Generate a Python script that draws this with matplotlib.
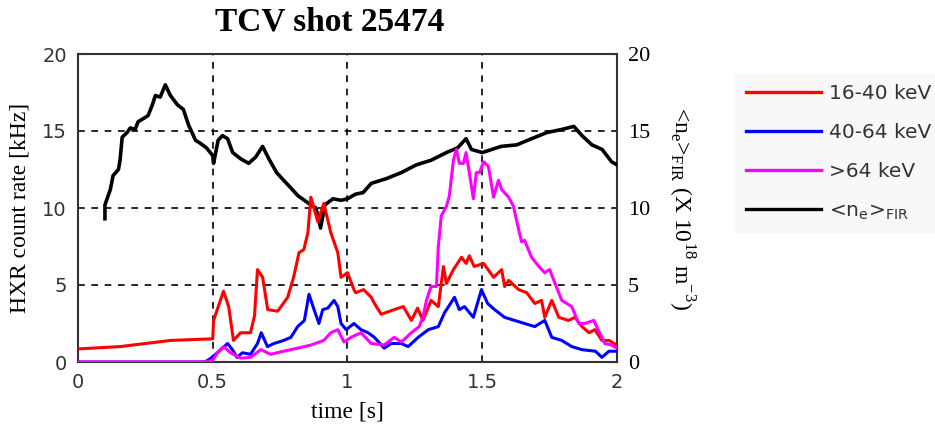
import matplotlib
matplotlib.use('Agg')
import matplotlib.pyplot as plt
from matplotlib.lines import Line2D

plt.rcParams['mathtext.fontset'] = 'custom'
plt.rcParams['mathtext.rm'] = 'Liberation Serif'
plt.rcParams['mathtext.sf'] = 'DejaVu Sans'

# (time [s], value) pairs
ne_fir = [(0.10, 9.3), (0.10, 10.2), (0.12, 11.2), (0.13, 12.1), (0.15, 12.5), (0.156, 13.1),
          (0.164, 14.6), (0.182, 14.9), (0.194, 15.2), (0.212, 15.1), (0.223, 15.6), (0.242, 15.8),
          (0.26, 16.0), (0.276, 16.7), (0.287, 17.3), (0.305, 17.2), (0.324, 18.0), (0.343, 17.3),
          (0.369, 16.7), (0.391, 16.4), (0.41, 15.4), (0.436, 14.4), (0.454, 14.2), (0.477, 13.9),
          (0.50, 13.4), (0.503, 12.9), (0.52, 14.4), (0.536, 14.7), (0.555, 14.5), (0.574, 13.6),
          (0.603, 13.2), (0.633, 12.9), (0.659, 13.3), (0.685, 14.0), (0.708, 13.2), (0.737, 12.3),
          (0.763, 11.8), (0.79, 11.3), (0.816, 10.8), (0.84, 10.5), (0.864, 10.2), (0.883, 10.0),
          (0.90, 8.7), (0.916, 10.2), (0.946, 10.6), (0.976, 10.5), (1.0, 10.6), (1.03, 10.9),
          (1.058, 11.0), (1.088, 11.6), (1.143, 11.9), (1.2, 12.3), (1.255, 12.8), (1.31, 13.1),
          (1.367, 13.6), (1.408, 13.9), (1.44, 14.5), (1.46, 13.8), (1.5, 13.6), (1.535, 13.8),
          (1.57, 14.0), (1.628, 14.1), (1.683, 14.5), (1.74, 14.9), (1.795, 15.1), (1.84, 15.3),
          (1.87, 14.7), (1.907, 14.1), (1.945, 13.8), (1.98, 13.0), (2.0, 12.8)]

hxr_16_40 = [(0.0, 0.85), (0.156, 1.0), (0.25, 1.2), (0.343, 1.4), (0.49, 1.5), (0.50, 1.5),
             (0.503, 2.7), (0.54, 4.6), (0.559, 3.6), (0.577, 1.4), (0.603, 1.9), (0.64, 1.9),
             (0.655, 3.0), (0.666, 6.0), (0.685, 5.5), (0.704, 3.4), (0.741, 3.3), (0.778, 4.2),
             (0.80, 5.5), (0.82, 7.1), (0.838, 7.3), (0.853, 8.4), (0.864, 10.7), (0.89, 9.1),
             (0.912, 10.3), (0.938, 8.4), (0.964, 7.1), (0.976, 5.5), (1.0, 5.8), (1.024, 4.7),
             (1.03, 4.5), (1.06, 4.7), (1.088, 4.2), (1.1, 3.8), (1.125, 3.1), (1.173, 3.4),
             (1.207, 3.6), (1.237, 2.7), (1.26, 3.5), (1.28, 2.7), (1.31, 4.0), (1.337, 3.6),
             (1.356, 6.2), (1.367, 5.1), (1.393, 6.0), (1.423, 6.8), (1.44, 6.4), (1.452, 6.9),
             (1.47, 6.2), (1.505, 6.4), (1.542, 5.5), (1.572, 6.0), (1.583, 4.9), (1.598, 5.3),
             (1.635, 4.7), (1.665, 4.5), (1.695, 3.8), (1.72, 4.0), (1.732, 2.9), (1.758, 4.0),
             (1.784, 2.9), (1.82, 2.7), (1.844, 2.9), (1.87, 2.3), (1.896, 1.9), (1.918, 2.1),
             (1.944, 1.4), (1.97, 1.4), (2.0, 1.1)]

hxr_40_64 = [(0.0, 0.0), (0.47, 0.0), (0.49, 0.2), (0.517, 0.6), (0.555, 1.2), (0.573, 0.8),
             (0.59, 0.3), (0.61, 0.6), (0.64, 0.5), (0.666, 1.2), (0.68, 1.9), (0.703, 1.0),
             (0.727, 1.2), (0.763, 1.4), (0.79, 1.6), (0.815, 2.3), (0.84, 2.7), (0.857, 4.4),
             (0.876, 3.4), (0.894, 2.5), (0.908, 3.4), (0.927, 3.5), (0.95, 4.0), (0.964, 3.6),
             (0.976, 2.5), (0.995, 2.1), (1.024, 2.5), (1.05, 2.1), (1.076, 1.9), (1.1, 1.6),
             (1.136, 0.9), (1.162, 1.2), (1.2, 1.2), (1.225, 1.0), (1.262, 1.6), (1.3, 2.1),
             (1.337, 2.3), (1.36, 3.2), (1.397, 4.2), (1.415, 3.4), (1.434, 3.6), (1.467, 2.9),
             (1.497, 4.7), (1.52, 3.8), (1.546, 3.4), (1.583, 2.9), (1.62, 2.7), (1.657, 2.5),
             (1.695, 2.3), (1.732, 2.7), (1.758, 1.6), (1.795, 1.4), (1.832, 1.0), (1.87, 0.8),
             (1.92, 0.7), (1.944, 0.3), (1.97, 0.7), (2.0, 0.7)]

hxr_64 = [(0.0, 0.0), (0.47, 0.0), (0.50, 0.1), (0.517, 0.6), (0.54, 1.0), (0.566, 0.6),
          (0.603, 0.25), (0.64, 0.3), (0.678, 0.8), (0.715, 0.5), (0.763, 0.7), (0.815, 0.9),
          (0.864, 1.1), (0.912, 1.4), (0.938, 1.9), (0.964, 2.1), (0.987, 1.3), (1.013, 1.6),
          (1.05, 1.9), (1.088, 1.2), (1.136, 1.1), (1.173, 1.6), (1.2, 1.3), (1.237, 1.9),
          (1.266, 2.3), (1.28, 2.9), (1.293, 4.0), (1.31, 4.9), (1.33, 4.9), (1.337, 7.5),
          (1.348, 9.5), (1.367, 10.1), (1.378, 10.8), (1.393, 13.1), (1.404, 13.8), (1.415, 12.9),
          (1.43, 12.9), (1.44, 13.6), (1.452, 12.3), (1.467, 10.6), (1.478, 12.3), (1.49, 12.3),
          (1.505, 13.0), (1.523, 12.7), (1.542, 10.7), (1.56, 11.8), (1.572, 11.2), (1.598, 10.7),
          (1.616, 10.1), (1.635, 8.6), (1.646, 7.8), (1.657, 7.9), (1.683, 6.8), (1.71, 6.2),
          (1.732, 5.8), (1.75, 6.0), (1.795, 4.0), (1.832, 3.6), (1.858, 2.5), (1.88, 2.5),
          (1.914, 2.7), (1.93, 2.1), (1.955, 1.2), (1.98, 1.1), (2.0, 0.9)]

x_ticks = [0, 0.5, 1, 1.5, 2]
x_ticklabels = ['0', '0.5', '1', '1.5', '2']
y_ticks = [0, 5, 10, 15, 20]
legend_labels = ['16-40 keV', '40-64 keV', '>64 keV', r'<n$_\mathsf{e}$>$_\mathsf{FIR}$']
colors = ['#ff0000', '#0000ff', '#ff00ff', '#000000']

fig = plt.figure(figsize=(9.35, 4.33), dpi=100)
ax = fig.add_axes([78/935, 1-362/433, (617-78)/935, (362-54)/433])

t, v = zip(*ne_fir)
ax.plot(t, v, color='black', lw=2.6, zorder=3)
for series, c in zip([hxr_16_40, hxr_40_64, hxr_64], colors[:3]):
    t, v = zip(*series)
    ax.plot(t, v, color=c, lw=2.2, zorder=4)

ax.set_xlim(0, 2); ax.set_ylim(0, 20)
ax.set_xticks(x_ticks); ax.set_xticklabels(x_ticklabels)
ax.set_yticks(y_ticks)
ax.grid(True, color='black', linestyle=(0, (4, 4)), lw=1.2)
ax.tick_params(direction='in', length=4, labelsize=14, labelcolor='#333333',
               color='#333333', pad=8)
for lab in ax.get_xticklabels() + ax.get_yticklabels():
    lab.set_family('DejaVu Sans')
for s in ax.spines.values():
    s.set_color('#333333'); s.set_linewidth(1.5)
ax.set_xlabel('time [s]', family='Liberation Serif', fontsize=17, labelpad=7)
ax.set_ylabel('HXR count rate [kHz]', family='Liberation Serif', fontsize=17, labelpad=8)

ax2 = ax.twinx()
ax2.set_ylim(0, 20); ax2.set_yticks(y_ticks)
ax2.tick_params(direction='in', length=4, labelsize=16, color='#333333', pad=8)
for lab in ax2.get_yticklabels():
    lab.set_family('Liberation Serif')
for s in ax2.spines.values():
    s.set_visible(False)
ax2.set_ylabel(r'<n$_\mathrm{e}$>$_\mathrm{FIR}$ (X 10$^{18}$ m$^{-3}$)',
               family='Liberation Serif', fontsize=17, rotation=270, labelpad=33)

fig.text(330/935, 1-22/433, 'TCV shot 25474', family='Liberation Serif',
         fontweight='bold', fontsize=24, ha='center', va='center')

handles = [Line2D([], [], color=c, lw=2.4) for c in colors]
leg = fig.legend(handles, legend_labels, loc='upper left',
                 bbox_to_anchor=(735/935, 1-73/433), borderaxespad=0, frameon=True,
                 fancybox=False, facecolor='#f8f8f8', edgecolor='none', framealpha=1,
                 prop={'family': 'DejaVu Sans', 'size': 14.5}, handlelength=3.7,
                 handletextpad=0.4, labelspacing=1.0, borderpad=0.55)
for txt in leg.get_texts():
    txt.set_color('#333333')

fig.savefig('out.png', dpi=100)
